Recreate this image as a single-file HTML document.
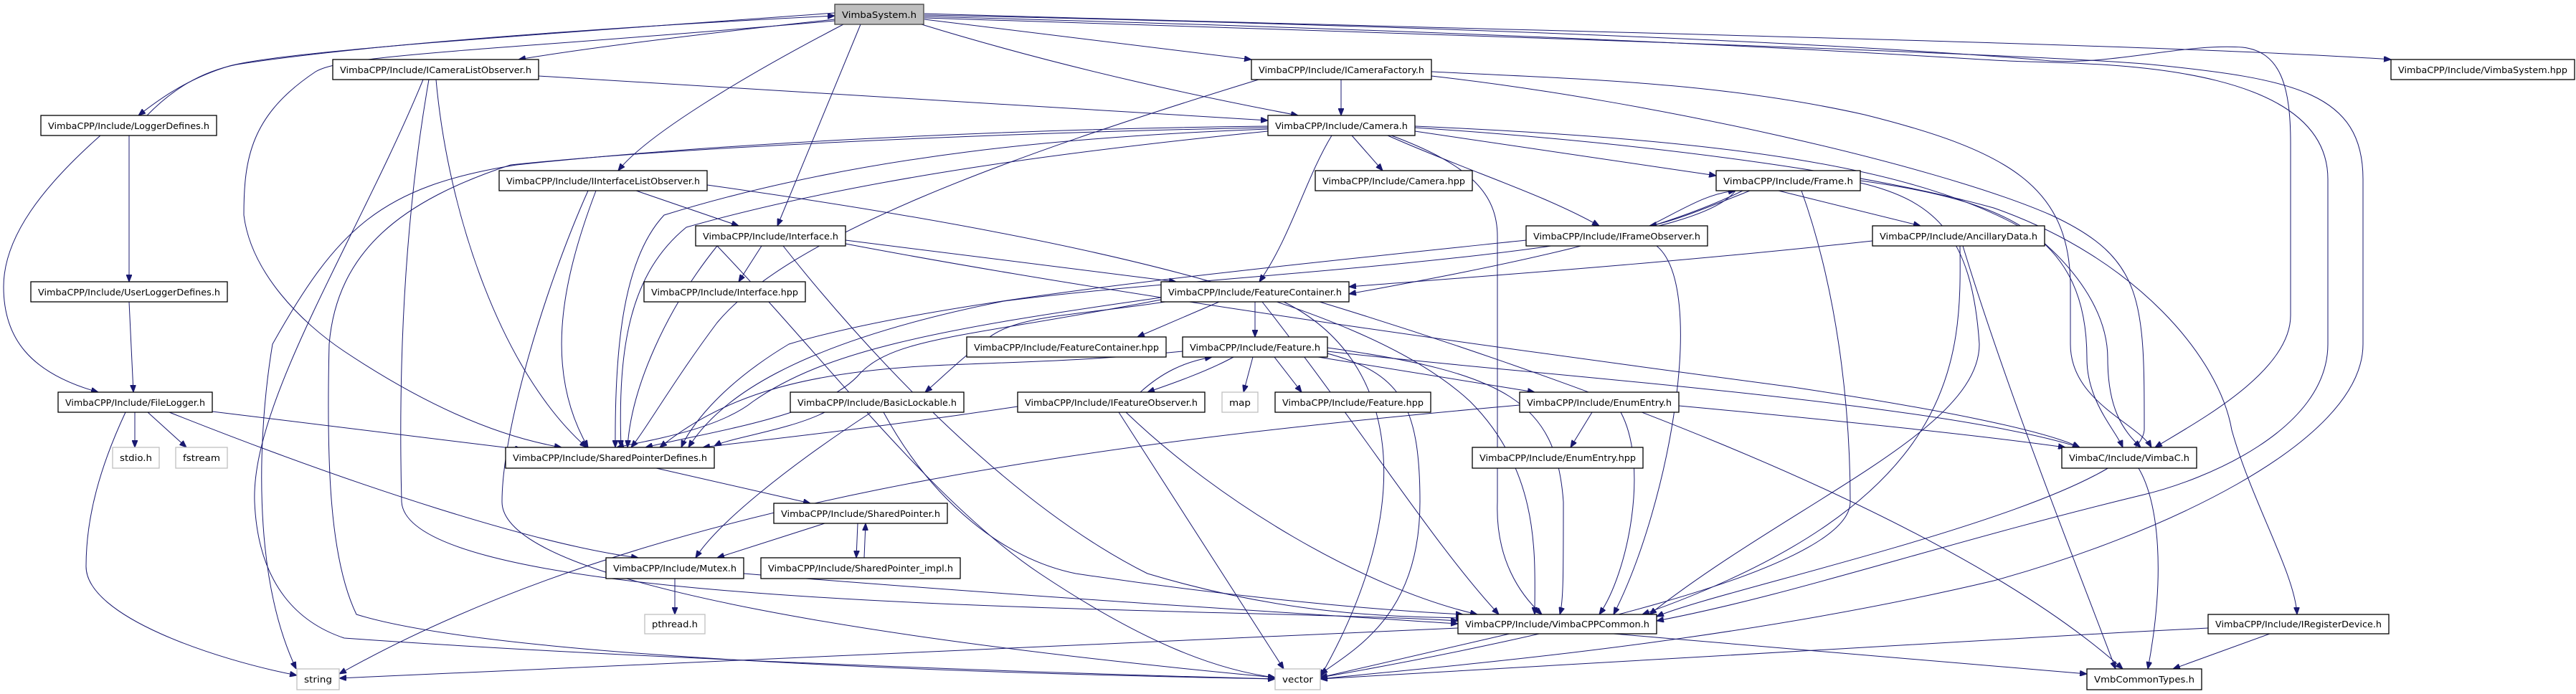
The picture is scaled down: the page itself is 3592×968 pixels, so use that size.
<!DOCTYPE html>
<html><head><meta charset="utf-8"><style>
html,body{margin:0;padding:0;background:#fff;}
svg{display:block;}
.n rect{fill:#fff;stroke:#000;stroke-width:1.3;}
.g rect{fill:#fff;stroke:#bfbfbf;stroke-width:1.3;}
.r rect{fill:#bfbfbf;stroke:#404040;stroke-width:1.3;}
text{font-family:"DejaVu Sans","Liberation Sans",sans-serif;font-size:12.5px;fill:#000;}
path{fill:none;stroke:#191970;stroke-width:1;}
</style></head><body>
<svg width="3592" height="968" viewBox="0 0 3592 968" xmlns="http://www.w3.org/2000/svg">
<defs><marker id="a" viewBox="0 0 10 8" refX="10" refY="4" markerWidth="10" markerHeight="8" markerUnits="userSpaceOnUse" orient="auto"><path d="M0,0 L10,4 L0,8 Z" style="fill:#191970;stroke:#191970"/></marker></defs>
<g marker-end="url(#a)">
<path d="M1164,27 C950,50 800,70 723,83"/>
<path d="M1164,18 C800,45 400,70 320,92 C260,110 220,140 193,161"/>
<path d="M205,161 C240,125 280,100 330,90 C520,60 900,35 1164,22"/>
<path d="M1164,29 C700,70 480,75 440,100 C350,160 340,220 340,300 C350,380 420,450 480,490 C600,570 700,610 783,624"/>
<path d="M1176,34 C1030,110 900,190 862,238"/>
<path d="M1200,34 L1084,315"/>
<path d="M1285,34 C1500,100 1700,140 1810,161"/>
<path d="M1289,27 L1745,83"/>
<path d="M1289,19 C2000,40 3000,60 3334,83"/>
<path d="M1289,21 C2200,40 2700,70 2859,85 C2950,90 3050,60 3127,66 C3180,72 3194,120 3194,200 L3194,440 C3194,520 3060,590 3005,624"/>
<path d="M1289,23 C2300,50 2700,80 2800,85 C2900,90 3246,80 3246,250 L3246,480 C3246,600 3073,670 2989,690 C2700,760 2500,830 2310,866"/>
<path d="M1289,25 C2400,60 2900,80 3000,90 C3200,110 3295,130 3295,250 L3295,480 C3295,620 3000,750 2780,810 C2400,900 2000,930 1841,947"/>
<path d="M751,106 L1768,168"/>
<path d="M608,111 C625,300 700,520 818,624"/>
<path d="M590,111 C500,330 350,560 355,700 C360,820 420,870 480,890 C900,920 1500,940 1778,947"/>
<path d="M598,111 C565,300 555,500 560,700 C570,860 1700,845 2033,866"/>
<path d="M180,189 L180,393"/>
<path d="M140,189 C60,260 5,330 5,400 C5,470 40,520 137,547"/>
<path d="M180,421 L186,547"/>
<path d="M188,575 L188,624"/>
<path d="M206,575 L260,624"/>
<path d="M296,574 L728,627"/>
<path d="M175,575 C140,650 120,720 120,790 C120,860 300,920 414,942"/>
<path d="M236,575 C500,680 750,760 890,778"/>
<path d="M1885,189 L1928,238"/>
<path d="M1857,189 C1820,250 1800,330 1756,393"/>
<path d="M1935,189 C2050,240 2150,270 2230,315"/>
<path d="M1973,183 L2393,245"/>
<path d="M1973,176 C2400,195 2680,230 2840,330 C2900,380 2939,440 2939,500 C2939,570 2960,600 2985,624"/>
<path d="M1940,189 C2050,230 2088,270 2088,330 L2088,700 C2085,780 2120,830 2150,857"/>
<path d="M1973,178 C2300,200 2600,240 2780,290 C2980,360 3095,500 3112,600 C3140,700 3200,800 3203,857"/>
<path d="M1768,176 C1400,180 1000,200 720,230 C530,260 470,320 380,480 C360,600 350,800 413,933"/>
<path d="M1768,178 C1400,185 950,205 712,230 C560,280 470,350 459,480 C455,650 460,780 497,857 C700,920 1400,940 1778,947"/>
<path d="M1768,180 C1500,190 1200,215 926,300 C870,360 857,480 858,624"/>
<path d="M1768,183 C1500,210 1200,248 957,317 C880,380 861,480 866,624"/>
<path d="M1870,111 L1870,161"/>
<path d="M1755,111 C1400,220 1100,330 1000,450 C940,530 900,600 880,624"/>
<path d="M1996,100 C2200,110 2400,115 2600,160 C2800,210 2887,260 2887,400 L2887,480 C2887,560 2980,590 3000,624"/>
<path d="M1996,106 C2300,140 2700,230 2860,300 C2990,360 2990,420 2990,600 C2980,700 2400,820 2310,860"/>
<path d="M887,266 L1030,315"/>
<path d="M831,266 C780,400 760,520 820,624"/>
<path d="M820,266 C760,400 700,600 700,700 C700,820 1300,900 1778,945"/>
<path d="M986,258 C1500,330 1900,420 2050,560 C2150,660 2140,780 2140,857"/>
<path d="M1062,343 L1030,393"/>
<path d="M1179,335 L1640,393"/>
<path d="M1000,343 C930,430 880,540 875,624"/>
<path d="M1179,340 C1600,420 2200,500 2500,540 C2700,570 2850,600 2900,624"/>
<path d="M1092,343 C1200,480 1400,700 1600,800 C1800,860 1950,860 2040,862"/>
<path d="M1000,343 C1150,500 1300,700 1450,800 C1600,900 1700,935 1778,945"/>
<path d="M2440,266 C2380,290 2330,310 2300,315"/>
<path d="M2480,266 L2678,315"/>
<path d="M2430,266 C2300,330 2100,370 1881,410"/>
<path d="M2420,266 C2350,360 1700,380 1400,420 C1100,480 1000,560 960,624"/>
<path d="M2594,252 C2800,280 2910,330 2910,500 C2910,560 2950,600 2960,624"/>
<path d="M2594,255 C2700,280 2750,330 2760,480 C2760,600 2500,700 2300,857"/>
<path d="M2512,266 C2560,400 2580,560 2580,700 C2580,800 2100,900 1841,945"/>
<path d="M2300,315 C2350,290 2380,270 2420,266"/>
<path d="M2128,335 C1700,380 1300,420 1100,480 C1000,540 960,600 950,624"/>
<path d="M2310,343 C2380,400 2330,700 2250,857"/>
<path d="M2611,336 C2300,370 2000,390 1881,400"/>
<path d="M2733,343 C2735,500 2735,700 2290,857"/>
<path d="M2737,343 C2800,550 2900,800 2950,933"/>
<path d="M1700,421 L1586,470"/>
<path d="M1750,421 L1750,470"/>
<path d="M1625,421 C1500,440 1420,440 1380,470 C1340,500 1310,530 1290,547"/>
<path d="M1619,415 C1300,460 1150,490 1050,560 C1000,600 900,615 860,624"/>
<path d="M1619,418 C1350,470 1250,470 1200,520 C1150,580 1000,600 900,624"/>
<path d="M1760,421 C1900,600 2000,760 2090,857"/>
<path d="M1840,421 C2100,500 2700,700 2960,933"/>
<path d="M1790,421 C1950,500 1980,700 1841,944"/>
<path d="M1720,498 C1680,520 1620,540 1600,547"/>
<path d="M1747,498 L1734,547"/>
<path d="M1777,498 L1815,547"/>
<path d="M1838,498 L2140,547"/>
<path d="M1649,490 C1500,505 1400,505 1300,510 C1100,520 1000,560 920,624"/>
<path d="M1851,490 C2100,520 2700,560 2900,624"/>
<path d="M1851,485 C2100,520 2170,560 2180,700 C2180,800 2180,840 2175,857"/>
<path d="M1851,493 C1950,520 1980,560 1980,700 C1980,850 1900,900 1841,940"/>
<path d="M1590,547 C1620,520 1650,505 1690,498"/>
<path d="M1419,567 C1200,600 1050,615 980,624"/>
<path d="M1570,575 C1700,700 1900,820 2060,857"/>
<path d="M1560,575 L1790,933"/>
<path d="M1150,575 C1100,600 1020,610 996,622"/>
<path d="M1215,575 C1100,650 1000,730 970,778"/>
<path d="M1232,575 C1300,700 1400,780 1500,800 C1700,830 1900,850 2040,857"/>
<path d="M2220,575 L2190,624"/>
<path d="M2260,575 C2300,650 2270,800 2230,857"/>
<path d="M2341,566 C2600,590 2780,610 2880,624"/>
<path d="M2119,565 C1500,620 900,700 473,940"/>
<path d="M915,653 L1130,702"/>
<path d="M1150,730 L1000,778"/>
<path d="M1196,730 L1194,778"/>
<path d="M1205,778 L1207,730"/>
<path d="M941,807 L941,857"/>
<path d="M1037,800 C1400,830 1800,855 2033,870"/>
<path d="M2033,876 L473,946"/>
<path d="M2105,884 L1841,945"/>
<path d="M2250,884 L2910,940"/>
<path d="M2982,653 C3010,700 3020,800 2995,933"/>
<path d="M3079,876 C2600,900 2100,930 1841,947"/>
<path d="M3165,884 L3030,933"/>
</g>
<g class="r"><rect x="1164" y="6" width="124" height="28"/><text x="1174" y="25" textLength="104" lengthAdjust="spacingAndGlyphs">VimbaSystem.h</text></g>
<g class="n"><rect x="464" y="83" width="287" height="28"/><text x="474" y="102" textLength="267" lengthAdjust="spacingAndGlyphs">VimbaCPP/Include/ICameraListObserver.h</text></g>
<g class="n"><rect x="57" y="161" width="245" height="28"/><text x="67" y="180" textLength="225" lengthAdjust="spacingAndGlyphs">VimbaCPP/Include/LoggerDefines.h</text></g>
<g class="n"><rect x="1745" y="83" width="251" height="28"/><text x="1755" y="102" textLength="231" lengthAdjust="spacingAndGlyphs">VimbaCPP/Include/ICameraFactory.h</text></g>
<g class="n"><rect x="3334" y="83" width="256" height="28"/><text x="3344" y="102" textLength="236" lengthAdjust="spacingAndGlyphs">VimbaCPP/Include/VimbaSystem.hpp</text></g>
<g class="n"><rect x="1768" y="161" width="205" height="28"/><text x="1778" y="180" textLength="185" lengthAdjust="spacingAndGlyphs">VimbaCPP/Include/Camera.h</text></g>
<g class="n"><rect x="696" y="238" width="290" height="28"/><text x="706" y="257" textLength="270" lengthAdjust="spacingAndGlyphs">VimbaCPP/Include/IInterfaceListObserver.h</text></g>
<g class="n"><rect x="1834" y="238" width="219" height="28"/><text x="1844" y="257" textLength="199" lengthAdjust="spacingAndGlyphs">VimbaCPP/Include/Camera.hpp</text></g>
<g class="n"><rect x="2393" y="238" width="201" height="28"/><text x="2403" y="257" textLength="181" lengthAdjust="spacingAndGlyphs">VimbaCPP/Include/Frame.h</text></g>
<g class="n"><rect x="970" y="315" width="209" height="28"/><text x="980" y="334" textLength="189" lengthAdjust="spacingAndGlyphs">VimbaCPP/Include/Interface.h</text></g>
<g class="n"><rect x="2128" y="315" width="253" height="28"/><text x="2138" y="334" textLength="233" lengthAdjust="spacingAndGlyphs">VimbaCPP/Include/IFrameObserver.h</text></g>
<g class="n"><rect x="2611" y="315" width="240" height="28"/><text x="2621" y="334" textLength="220" lengthAdjust="spacingAndGlyphs">VimbaCPP/Include/AncillaryData.h</text></g>
<g class="n"><rect x="43" y="393" width="274" height="28"/><text x="53" y="412" textLength="254" lengthAdjust="spacingAndGlyphs">VimbaCPP/Include/UserLoggerDefines.h</text></g>
<g class="n"><rect x="898" y="393" width="225" height="28"/><text x="908" y="412" textLength="205" lengthAdjust="spacingAndGlyphs">VimbaCPP/Include/Interface.hpp</text></g>
<g class="n"><rect x="1619" y="393" width="262" height="28"/><text x="1629" y="412" textLength="242" lengthAdjust="spacingAndGlyphs">VimbaCPP/Include/FeatureContainer.h</text></g>
<g class="n"><rect x="1348" y="470" width="278" height="28"/><text x="1358" y="489" textLength="258" lengthAdjust="spacingAndGlyphs">VimbaCPP/Include/FeatureContainer.hpp</text></g>
<g class="n"><rect x="1649" y="470" width="202" height="28"/><text x="1659" y="489" textLength="182" lengthAdjust="spacingAndGlyphs">VimbaCPP/Include/Feature.h</text></g>
<g class="n"><rect x="81" y="547" width="215" height="28"/><text x="91" y="566" textLength="195" lengthAdjust="spacingAndGlyphs">VimbaCPP/Include/FileLogger.h</text></g>
<g class="n"><rect x="1102" y="547" width="242" height="28"/><text x="1112" y="566" textLength="222" lengthAdjust="spacingAndGlyphs">VimbaCPP/Include/BasicLockable.h</text></g>
<g class="n"><rect x="1419" y="547" width="261" height="28"/><text x="1429" y="566" textLength="241" lengthAdjust="spacingAndGlyphs">VimbaCPP/Include/IFeatureObserver.h</text></g>
<g class="g"><rect x="1704" y="547" width="50" height="28"/><text x="1714" y="566" textLength="30" lengthAdjust="spacingAndGlyphs">map</text></g>
<g class="n"><rect x="1778" y="547" width="217" height="28"/><text x="1788" y="566" textLength="197" lengthAdjust="spacingAndGlyphs">VimbaCPP/Include/Feature.hpp</text></g>
<g class="n"><rect x="2119" y="547" width="222" height="28"/><text x="2129" y="566" textLength="202" lengthAdjust="spacingAndGlyphs">VimbaCPP/Include/EnumEntry.h</text></g>
<g class="n"><rect x="705" y="624" width="291" height="29"/><text x="715" y="643" textLength="271" lengthAdjust="spacingAndGlyphs">VimbaCPP/Include/SharedPointerDefines.h</text></g>
<g class="g"><rect x="157" y="624" width="65" height="29"/><text x="167" y="643" textLength="45" lengthAdjust="spacingAndGlyphs">stdio.h</text></g>
<g class="g"><rect x="245" y="624" width="72" height="29"/><text x="255" y="643" textLength="52" lengthAdjust="spacingAndGlyphs">fstream</text></g>
<g class="n"><rect x="2053" y="624" width="238" height="29"/><text x="2063" y="643" textLength="218" lengthAdjust="spacingAndGlyphs">VimbaCPP/Include/EnumEntry.hpp</text></g>
<g class="n"><rect x="2875" y="624" width="188" height="29"/><text x="2885" y="643" textLength="168" lengthAdjust="spacingAndGlyphs">VimbaC/Include/VimbaC.h</text></g>
<g class="n"><rect x="1079" y="702" width="242" height="28"/><text x="1089" y="721" textLength="222" lengthAdjust="spacingAndGlyphs">VimbaCPP/Include/SharedPointer.h</text></g>
<g class="n"><rect x="845" y="778" width="192" height="29"/><text x="855" y="797" textLength="172" lengthAdjust="spacingAndGlyphs">VimbaCPP/Include/Mutex.h</text></g>
<g class="n"><rect x="1061" y="778" width="278" height="29"/><text x="1071" y="797" textLength="258" lengthAdjust="spacingAndGlyphs">VimbaCPP/Include/SharedPointer_impl.h</text></g>
<g class="g"><rect x="899" y="857" width="84" height="27"/><text x="909" y="875" textLength="64" lengthAdjust="spacingAndGlyphs">pthread.h</text></g>
<g class="n"><rect x="2033" y="857" width="277" height="27"/><text x="2043" y="875" textLength="257" lengthAdjust="spacingAndGlyphs">VimbaCPP/Include/VimbaCPPCommon.h</text></g>
<g class="n"><rect x="3079" y="857" width="252" height="27"/><text x="3089" y="875" textLength="232" lengthAdjust="spacingAndGlyphs">VimbaCPP/Include/IRegisterDevice.h</text></g>
<g class="g"><rect x="414" y="933" width="59" height="29"/><text x="424" y="952" textLength="39" lengthAdjust="spacingAndGlyphs">string</text></g>
<g class="g"><rect x="1778" y="933" width="63" height="29"/><text x="1788" y="952" textLength="43" lengthAdjust="spacingAndGlyphs">vector</text></g>
<g class="n"><rect x="2910" y="933" width="160" height="29"/><text x="2920" y="952" textLength="140" lengthAdjust="spacingAndGlyphs">VmbCommonTypes.h</text></g>
</svg>
</body></html>
